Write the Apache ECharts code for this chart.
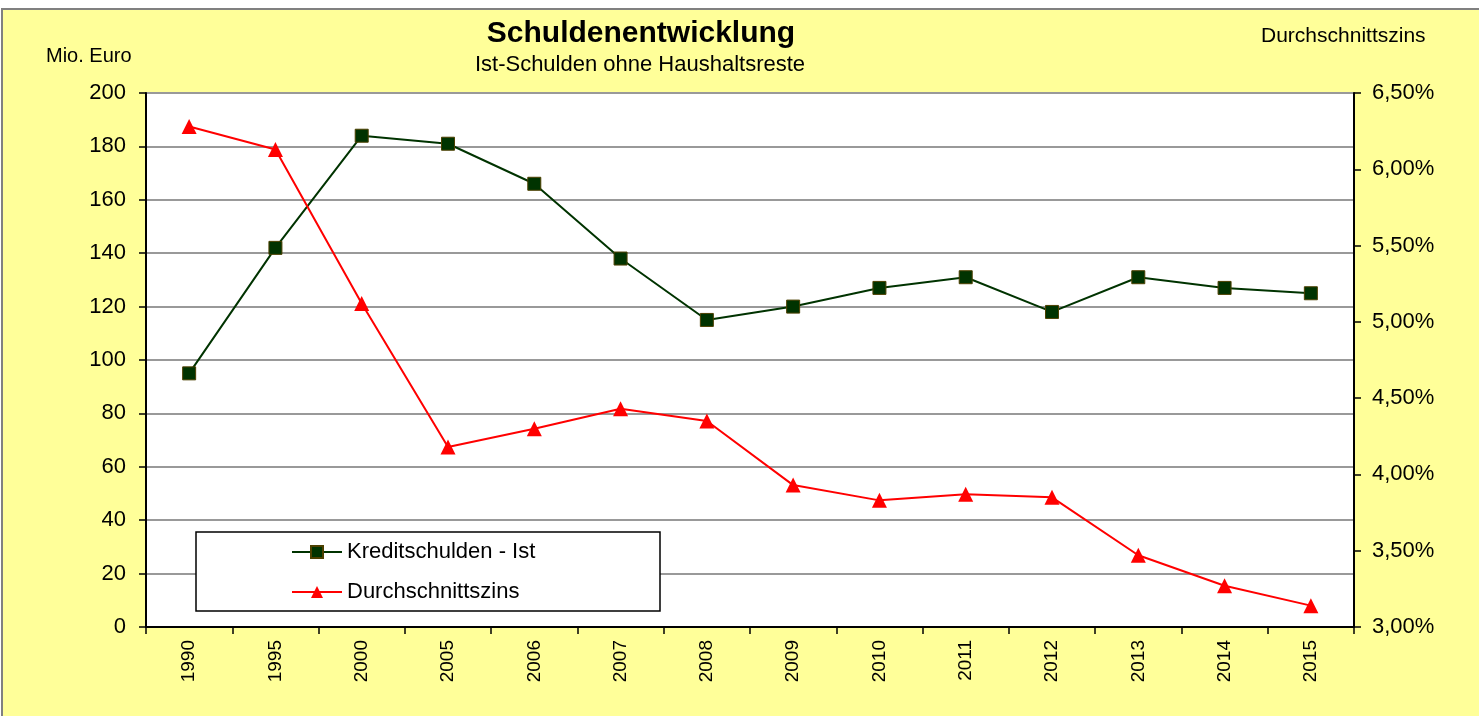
<!DOCTYPE html>
<html><head><meta charset="utf-8">
<script src="https://cdn.jsdelivr.net/npm/echarts@6/dist/echarts.min.js"></script>
<style>html,body{margin:0;padding:0;background:#fff}#c{width:1479px;height:716px}</style>
</head><body><div id="c"></div>
<script>
const years = ['1990','1995','2000','2005','2006','2007','2008','2009','2010','2011','2012','2013','2014','2015'];
const kreditschulden = [95,142,184,181,166,138,115,120,127,131,118,131,127,125];
const zins = [6.28,6.13,5.12,4.18,4.30,4.43,4.35,3.93,3.83,3.87,3.85,3.47,3.27,3.14];
const leftTicks = {min:0, max:200, interval:20};
const rightTicks = {min:3.0, max:6.5, interval:0.5};

const FONT = '"Liberation Sans", Arial, sans-serif';
const chart = echarts.init(document.getElementById('c'), null, {renderer:'canvas'});
chart.setOption({
  backgroundColor:'#ffffff',
  animation:false,
  graphic:[
    {type:'rect', z:-10, silent:true, shape:{x:2,y:9,width:1490,height:720},
     style:{fill:'#FFFF99', stroke:'#808080', lineWidth:2}},
    {type:'rect', z:3, silent:true, shape:{x:196,y:532,width:464,height:79},
     style:{fill:'#ffffff', stroke:'#000000', lineWidth:1.5}}
  ],
  title:[
    {text:'Schuldenentwicklung', left:641, top:19, textAlign:'center', padding:0,
     textStyle:{fontFamily:FONT, fontSize:30, fontWeight:'bold', color:'#000'}},
    {text:'Ist-Schulden ohne Haushaltsreste', left:640, top:54, textAlign:'center', padding:0,
     textStyle:{fontFamily:FONT, fontSize:22, fontWeight:'normal', color:'#000'}},
    {text:'Mio. Euro', left:46, top:46, padding:0,
     textStyle:{fontFamily:FONT, fontSize:20, fontWeight:'normal', color:'#000'}},
    {text:'Durchschnittszins', left:1261, top:26, padding:0,
     textStyle:{fontFamily:FONT, fontSize:21, fontWeight:'normal', color:'#000'}}
  ],
  legend:{
    orient:'vertical', left:291, top:541, z:5, padding:0,
    itemWidth:50, itemHeight:15, itemGap:18,
    textStyle:{fontFamily:FONT, fontSize:22, lineHeight:22, color:'#000'},
    data:['Kreditschulden - Ist','Durchschnittszins']
  },
  grid:{left:146, right:125, top:93, bottom:89, show:true, backgroundColor:'#ffffff', borderWidth:0},
  xAxis:{
    type:'category', data:years, boundaryGap:true,
    axisLine:{lineStyle:{color:'#000', width:2}},
    axisTick:{show:true, inside:false, length:7, alignWithLabel:false, lineStyle:{color:'#000', width:1.5}},
    axisLabel:{rotate:90, margin:13, fontFamily:FONT, fontSize:19, color:'#000', interval:0}
  },
  yAxis:[
    {type:'value', min:leftTicks.min, max:leftTicks.max, interval:leftTicks.interval, position:'left',
     axisLine:{show:true, lineStyle:{color:'#000', width:2}},
     axisTick:{show:true, length:7, lineStyle:{color:'#000', width:1.5}},
     axisLabel:{fontFamily:FONT, fontSize:22, color:'#000', margin:20},
     splitLine:{show:true, lineStyle:{color:'#999', width:2}}},
    {type:'value', min:rightTicks.min, max:rightTicks.max, interval:rightTicks.interval, position:'right',
     axisLine:{show:true, lineStyle:{color:'#000', width:2}},
     axisTick:{show:true, length:7, lineStyle:{color:'#000', width:1.5}},
     axisLabel:{fontFamily:FONT, fontSize:22, color:'#000', margin:18,
       formatter:v=>v.toFixed(2).replace('.',',')+'%'},
     splitLine:{show:false}}
  ],
  series:[
    {name:'Kreditschulden - Ist', type:'line', yAxisIndex:0, data:kreditschulden,
     symbol:'rect', symbolSize:13, z:3,
     lineStyle:{color:'#003300', width:2},
     itemStyle:{color:'#003300', borderColor:'#4d4000', borderWidth:1}},
    {name:'Durchschnittszins', type:'line', yAxisIndex:1, data:zins,
     symbol:'triangle', symbolSize:15, z:4,
     lineStyle:{color:'#ff0000', width:2},
     itemStyle:{color:'#ff0000', borderColor:'#ff0000', borderWidth:0}}
  ]
});
</script></body></html>
